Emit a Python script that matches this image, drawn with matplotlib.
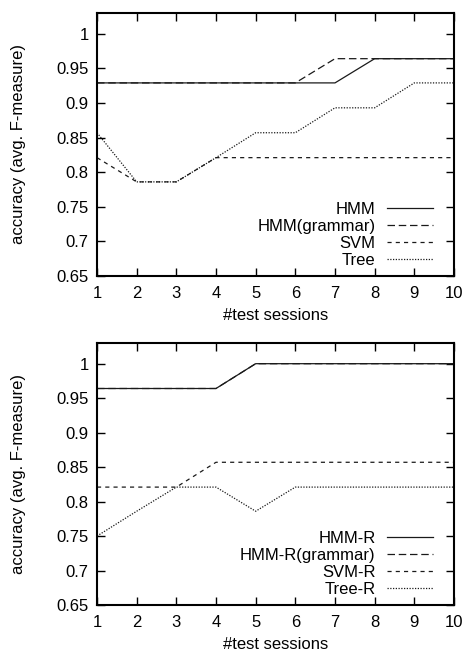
import matplotlib.pyplot as plt

plt.rcParams['font.family'] = ['Liberation Sans', 'DejaVu Sans']
plt.rcParams['font.size'] = 12

sessions = [1, 2, 3, 4, 5, 6, 7, 8, 9, 10]

# top panel
hmm = [0.929, 0.929, 0.929, 0.929, 0.929, 0.929, 0.929, 0.964, 0.964, 0.964]
hmm_gram = [0.929, 0.929, 0.929, 0.929, 0.929, 0.929, 0.964, 0.964, 0.964, 0.964]
svm = [0.821, 0.786, 0.786, 0.821, 0.821, 0.821, 0.821, 0.821, 0.821, 0.821]
tree = [0.857, 0.786, 0.786, 0.821, 0.857, 0.857, 0.893, 0.893, 0.929, 0.929]

# bottom panel
hmm_r = [0.964, 0.964, 0.964, 0.964, 1.0, 1.0, 1.0, 1.0, 1.0, 1.0]
hmm_r_gram = [0.964, 0.964, 0.964, 0.964, 1.0, 1.0, 1.0, 1.0, 1.0, 1.0]
svm_r = [0.821, 0.821, 0.821, 0.857, 0.857, 0.857, 0.857, 0.857, 0.857, 0.857]
tree_r = [0.75, 0.786, 0.821, 0.821, 0.786, 0.821, 0.821, 0.821, 0.821, 0.821]

yticks = [0.65, 0.7, 0.75, 0.8, 0.85, 0.9, 0.95, 1]

styles = [
    dict(ls='-', color='#1a1a1a'),
    dict(ls=(0, (6, 3)), color='#1a1a1a'),
    dict(ls=(0, (3.3, 3.3)), color='#1a1a1a'),
    dict(ls=(0, (1, 1.2)), color='#1a1a1a'),
]

fig = plt.figure(figsize=(4.67, 6.55), dpi=100)
ax1 = fig.add_axes([97 / 467, 1 - 276 / 655, 357 / 467, 263 / 655])
ax2 = fig.add_axes([97 / 467, 1 - 605 / 655, 357 / 467, 262 / 655])

panels = [
    (ax1, [hmm, hmm_gram, svm, tree], ['HMM', 'HMM(grammar)', 'SVM', 'Tree']),
    (ax2, [hmm_r, hmm_r_gram, svm_r, tree_r], ['HMM-R', 'HMM-R(grammar)', 'SVM-R', 'Tree-R']),
]

for ax, series, names in panels:
    for vals, name, st in zip(series, names, styles):
        ax.plot(sessions, vals, lw=0.9, label=name, **st)
    ax.set_xlim(1, 10)
    ax.set_ylim(0.65, 1.03)
    ax.set_xticks(sessions)
    ax.set_yticks(yticks)
    ax.set_yticklabels([('%g' % v) for v in yticks])
    ax.tick_params(direction='in', top=True, right=True, length=6, width=1)
    ax.tick_params(axis='x', pad=7)
    ax.tick_params(axis='y', pad=6)
    for sp in ax.spines.values():
        sp.set_linewidth(1.5)
    ax.set_xlabel('#test sessions', labelpad=5)
    ax.set_ylabel('accuracy (avg. F-measure)')
    ax.yaxis.set_label_coords(-0.2, 0.5)
    ax.legend(loc='lower right', bbox_to_anchor=(0.965, 0.0), frameon=False,
              markerfirst=False, handlelength=2.8, handletextpad=0.65,
              labelspacing=0.12, borderaxespad=0.1, fontsize=12)

fig.savefig('out.png', dpi=100)
